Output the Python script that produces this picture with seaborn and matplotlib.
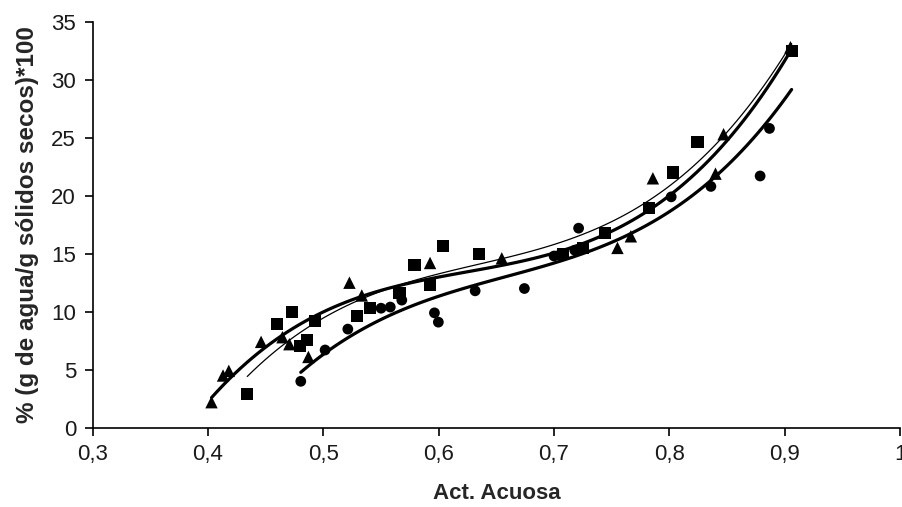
import numpy as np
import pandas as pd
import matplotlib
matplotlib.use("Agg")
import matplotlib.pyplot as plt
import seaborn as sns
from matplotlib.ticker import FuncFormatter

# Water activity (x) vs moisture % (y), three series
tri_x = [0.403, 0.413, 0.418, 0.446, 0.4645, 0.4705, 0.487, 0.5226, 0.5333, 0.5925,
         0.6547, 0.755, 0.7666, 0.7857, 0.840, 0.847, 0.905]
tri_y = [2.2, 4.5, 4.9, 7.4, 7.8, 7.2, 6.1, 12.5, 11.4, 14.2,
         14.6, 15.5, 16.5, 21.5, 21.9, 25.3, 32.8]

sq_x = [0.434, 0.4596, 0.4726, 0.4798, 0.486, 0.4928, 0.5295, 0.5405, 0.566, 0.579,
        0.5925, 0.6035, 0.635, 0.708, 0.725, 0.7443, 0.782, 0.803, 0.8244, 0.906]
sq_y = [2.9, 8.9, 9.95, 7.07, 7.56, 9.2, 9.6, 10.3, 11.6, 14.0,
        12.3, 15.7, 15.0, 15.0, 15.5, 16.8, 18.9, 22.0, 24.6, 32.5]

# last circle sits hidden behind the top square
circ_x = [0.4804, 0.5015, 0.5212, 0.550, 0.558, 0.568, 0.5963, 0.5997, 0.6316, 0.6743,
          0.700, 0.718, 0.7213, 0.8016, 0.836, 0.8787, 0.8868, 0.906]
circ_y = [4.0, 6.7, 8.5, 10.3, 10.4, 11.0, 9.9, 9.1, 11.8, 12.0,
          14.8, 15.3, 17.2, 19.9, 20.8, 21.7, 25.8, 32.5]

x_ticks = [0.3, 0.4, 0.5, 0.6, 0.7, 0.8, 0.9, 1.0]
y_ticks = [0, 5, 10, 15, 20, 25, 30, 35]

tri = pd.DataFrame({'aw': tri_x, 'hum': tri_y})
sq = pd.DataFrame({'aw': sq_x, 'hum': sq_y})
circ = pd.DataFrame({'aw': circ_x, 'hum': circ_y})

sns.set_style("ticks")
plt.rcParams['font.family'] = ['Liberation Sans', 'DejaVu Sans']

fig = plt.figure(figsize=(9.02, 5.07), dpi=100)
ax = fig.add_axes([0.1028, 0.1564, 0.895, 0.8008])

# points
sns.scatterplot(data=circ, x='aw', y='hum', marker='o', s=60, color='black', edgecolor='none', ax=ax, zorder=3)
sns.scatterplot(data=tri, x='aw', y='hum', marker='^', s=80, color='black', edgecolor='none', ax=ax, zorder=3)
sns.scatterplot(data=sq, x='aw', y='hum', marker='s', s=75, color='black', edgecolor='none', ax=ax, zorder=3)

# cubic trend lines
sns.regplot(data=tri, x='aw', y='hum', order=3, ci=None, scatter=False, truncate=True,
            color='black', line_kws={'lw': 2.3, 'zorder': 4}, ax=ax)
sns.regplot(data=sq, x='aw', y='hum', order=3, ci=None, scatter=False, truncate=True,
            color='black', line_kws={'lw': 0.9, 'zorder': 4}, ax=ax)
sns.regplot(data=circ, x='aw', y='hum', order=3, ci=None, scatter=False, truncate=True,
            color='black', line_kws={'lw': 2.3, 'zorder': 4}, ax=ax)

ax.set_xlim(0.3, 1.0)
ax.set_ylim(0, 35)
ax.set_xticks(x_ticks)
ax.set_yticks(y_ticks)
ax.xaxis.set_major_formatter(FuncFormatter(lambda v, p: ('%g' % round(v, 1)).replace('.', ',')))
ax.tick_params(axis='both', direction='out', length=6, width=1.2, color='black',
               labelsize=16, labelcolor='#1a1a1a', pad=6)
for side in ['top', 'right']:
    ax.spines[side].set_visible(False)
for side in ['left', 'bottom']:
    ax.spines[side].set_color('black')
    ax.spines[side].set_linewidth(1.2)

ax.set_xlabel('Act. Acuosa', fontsize=16, fontweight='bold', labelpad=13)
ax.set_ylabel('% (g de agua/g sólidos secos)*100', fontsize=17.5, fontweight='bold', labelpad=9)

fig.savefig('out.png', dpi=100)
